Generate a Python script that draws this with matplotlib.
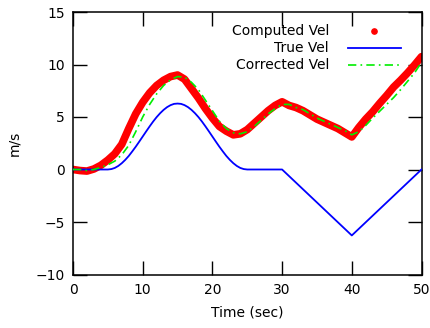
import matplotlib
matplotlib.use("Agg")
import matplotlib.pyplot as plt

# ---- data ----
time = list(range(0, 51))

computed_vel = [0.0, -0.1, -0.15, 0.05, 0.4, 0.9, 1.5, 2.4, 3.9, 5.3,
                6.4, 7.3, 8.0, 8.5, 8.85, 9.0, 8.6, 7.7, 6.8, 5.8,
                4.9, 4.1, 3.65, 3.3, 3.4, 3.8, 4.4, 5.0, 5.6, 6.1,
                6.45, 6.1, 5.9, 5.6, 5.2, 4.8, 4.5, 4.2, 3.9, 3.5,
                3.1, 4.0, 4.8, 5.5, 6.3, 7.05, 7.85, 8.5, 9.2, 9.95, 10.75]

corrected_vel = [0.0, 0.0, -0.1, 0.0, 0.2, 0.45, 0.8, 1.4, 2.3, 3.6,
                 5.0, 6.2, 7.2, 8.0, 8.55, 8.85, 8.8, 8.3, 7.6, 6.6,
                 5.6, 4.6, 3.9, 3.5, 3.4, 3.6, 4.1, 4.7, 5.3, 5.8,
                 6.2, 6.2, 5.9, 5.7, 5.3, 4.9, 4.6, 4.3, 4.0, 3.7,
                 3.3, 3.6, 4.2, 4.9, 5.55, 6.2, 6.85, 7.6, 8.4, 9.2, 10.2]

true_time = [0, 5, 5.5, 6, 6.5, 7, 7.5, 8, 8.5, 9, 9.5, 10, 10.5, 11, 11.5,
             12, 12.5, 13, 13.5, 14, 14.5, 15, 15.5, 16, 16.5, 17, 17.5,
             18, 18.5, 19, 19.5, 20, 20.5, 21, 21.5, 22, 22.5, 23, 23.5,
             24, 24.5, 25, 30, 40, 50]
true_vel = [0, 0, 0.04, 0.15, 0.34, 0.60, 0.92, 1.29, 1.72, 2.17, 2.65,
            3.14, 3.63, 4.11, 4.57, 4.99, 5.36, 5.68, 5.94, 6.13, 6.25,
            6.28, 6.25, 6.13, 5.94, 5.68, 5.36, 4.99, 4.57, 4.11, 3.63,
            3.14, 2.65, 2.17, 1.72, 1.29, 0.92, 0.60, 0.34, 0.15, 0.04,
            0, 0, -6.28, 0]

labels = ["Computed Vel", "True Vel", "Corrected Vel"]
x_ticks = [0, 10, 20, 30, 40, 50]
y_ticks = [-10, -5, 0, 5, 10, 15]

plt.rcParams['font.family'] = ['DejaVu Sans']
W, H = 431, 328
fig = plt.figure(figsize=(W / 100, H / 100), dpi=100)
L, R, T, B = 73, 421.5, 12, 274.5
ax = fig.add_axes([L / W, 1 - B / H, (R - L) / W, (B - T) / H])

red = '#ff0000'
blue = '#0000ff'
green = '#00ee00'

ax.plot(time, computed_vel, color=red, lw=5.5, solid_capstyle='round',
        solid_joinstyle='round', zorder=2)
ax.plot(true_time, true_vel, color=blue, lw=1.3, zorder=3)
ax.plot(time, corrected_vel, color=green, lw=1.2, dashes=(5, 2.5, 1, 2.5), zorder=4)

ax.set_xlim(0, 50)
ax.set_ylim(-10, 15)
ax.set_xticks(x_ticks)
ax.set_yticks(y_ticks)
ax.tick_params(direction='in', length=10, width=1.0, top=True, right=True,
               labelsize=10, colors='black', pad=6)
for s in ax.spines.values():
    s.set_linewidth(1.1)

ax.set_xlabel("Time (sec)", fontsize=10, labelpad=6)
ax.set_ylabel("m/s", fontsize=10, labelpad=10)

# gnuplot-style key: text right-aligned, sample to the right
def ax_x(px):
    return (px - L) / (R - L)

def ax_y(py):
    return 1 - (py - T) / (B - T)

rows = [31, 48, 65]
for lab, py in zip(labels, rows):
    ax.text(ax_x(329), ax_y(py), lab, ha='right', va='center', fontsize=10,
            transform=ax.transAxes)
ax.plot([ax_x(374)], [ax_y(rows[0])], marker='o', ms=3.8, color=red,
        ls='none', transform=ax.transAxes, clip_on=False)
ax.plot([ax_x(348), ax_x(401)], [ax_y(rows[1])] * 2, color=blue, lw=1.3,
        transform=ax.transAxes)
ax.plot([ax_x(348), ax_x(401)], [ax_y(rows[2])] * 2, color=green, lw=1.2,
        dashes=(5, 2.5, 1, 2.5), transform=ax.transAxes)

fig.savefig("out.png", dpi=100)
